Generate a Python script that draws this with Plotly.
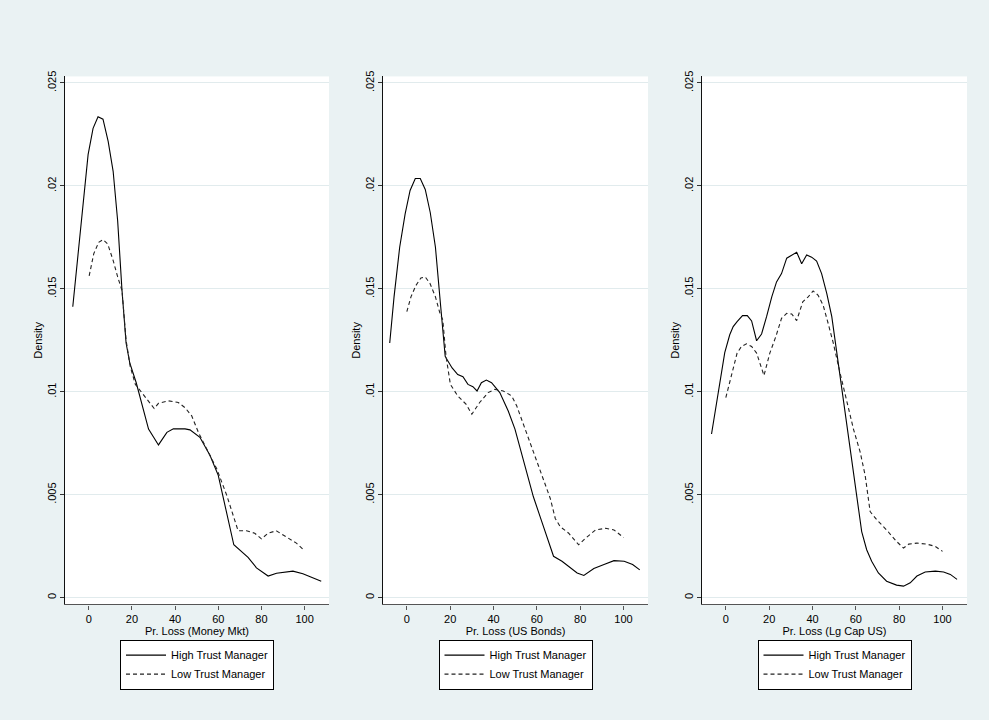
import plotly.graph_objects as go

# ---------------- data ----------------
panel_titles = ["Pr. Loss (Money Mkt)", "Pr. Loss (US Bonds)", "Pr. Loss (Lg Cap US)"]
series_names = ["High Trust Manager", "Low Trust Manager"]

mm_high_x = [-7.4, -5.1, -2.6, -0.3, 2.0, 4.3, 6.6, 9.0, 11.3, 13.4, 15.4, 17.3, 19.0, 22.0, 27.7, 32.3,
             36.2, 39.2, 44.6, 46.9, 51.5, 56.2, 60.0, 63.9, 67.2, 73.8, 77.7, 83.1, 87.0, 94.6, 99.2, 107.7]
mm_high_y = [0.01413, 0.01654, 0.01943, 0.02152, 0.0228, 0.02336, 0.02324, 0.02216, 0.02071, 0.0183,
             0.01493, 0.01237, 0.0114, 0.01044, 0.00819, 0.00742, 0.00803, 0.00820, 0.00820, 0.00815,
             0.00779, 0.00691, 0.00594, 0.00418, 0.00257, 0.00196, 0.00145, 0.00105, 0.00119, 0.00129,
             0.00116, 0.0008]
mm_low_x = [0.2, 2.3, 4.6, 6.6, 8.8, 11.3, 13.4, 15.4, 17.3, 19.2, 21.6, 26.2, 30.3, 32.3, 36.9, 41.5,
            44.6, 47.7, 50.8, 54.6, 59.3, 63.9, 67.2, 69.2, 73.1, 76.9, 80.0, 83.1, 86.9, 91.5, 96.2, 100.0]
mm_low_y = [0.01563, 0.0167, 0.01726, 0.01739, 0.01718, 0.01638, 0.01558, 0.01493, 0.0125, 0.01124,
            0.01036, 0.00972, 0.00919, 0.00944, 0.00956, 0.00948, 0.00923, 0.00883, 0.00803, 0.00723,
            0.00626, 0.00498, 0.00385, 0.00325, 0.00325, 0.00313, 0.00286, 0.00313, 0.00325, 0.00297,
            0.00265, 0.00228]

bd_high_x = [-7.9, -5.9, -3.3, -0.8, 1.5, 3.9, 6.2, 8.5, 10.8, 13.2, 15.5, 17.7, 18.6, 20.9, 23.5, 25.9,
             28.2, 30.5, 32.4, 34.4, 36.7, 39.1, 42.9, 46.8, 49.9, 53.0, 56.1, 58.4, 61.5, 64.7, 67.7,
             71.6, 75.5, 78.6, 81.7, 86.3, 91.0, 95.6, 100.3, 104.2, 107.5]
bd_high_y = [0.01237, 0.01461, 0.01702, 0.01863, 0.01978, 0.02036, 0.02036, 0.01983, 0.01871, 0.01702,
             0.01429, 0.01172, 0.01156, 0.01116, 0.01084, 0.01073, 0.01036, 0.01025, 0.01004, 0.01044,
             0.01057, 0.01044, 0.00996, 0.00907, 0.00819, 0.00698, 0.00578, 0.0049, 0.00394, 0.00289,
             0.00201, 0.00177, 0.00145, 0.0012, 0.00108, 0.00142, 0.00161, 0.0018, 0.00177, 0.00161,
             0.00135]
bd_low_x = [0.0, 1.9, 4.2, 6.5, 8.5, 10.7, 13.2, 15.3, 16.6, 18.1, 20.1, 23.5, 27.4, 30.0, 33.6, 37.5,
            40.6, 44.5, 48.4, 50.7, 54.6, 58.4, 62.3, 66.2, 68.5, 70.8, 74.7, 79.3, 82.5, 87.1, 91.8,
            95.6, 100.0]
bd_low_y = [0.01389, 0.01461, 0.01517, 0.01553, 0.01558, 0.01526, 0.01461, 0.01381, 0.01349, 0.01172,
            0.01036, 0.0098, 0.00939, 0.00891, 0.00948, 0.00996, 0.01012, 0.01004, 0.0098, 0.00932,
            0.00819, 0.00707, 0.00594, 0.00482, 0.00385, 0.00345, 0.00313, 0.00257, 0.00289, 0.00329,
            0.00337, 0.00329, 0.00292]

lc_high_x = [-6.6, -2.0, -0.5, 1.8, 3.4, 5.2, 7.7, 9.9, 11.9, 14.2, 16.5, 18.8, 21.2, 23.4, 25.7, 28.1,
             30.4, 32.7, 35.0, 37.3, 39.6, 41.9, 44.2, 46.6, 48.9, 50.4, 51.9, 54.2, 57.3, 60.4, 62.7,
             65.0, 67.3, 70.4, 74.2, 78.8, 82.0, 85.1, 88.2, 92.0, 96.7, 100.5, 103.6, 106.7]
lc_high_y = [0.00795, 0.01084, 0.0119, 0.01277, 0.01317, 0.01341, 0.0137, 0.0137, 0.01344, 0.01248,
             0.01281, 0.01365, 0.01461, 0.01534, 0.01574, 0.01649, 0.01665, 0.01678, 0.01622, 0.01665,
             0.01654, 0.01635, 0.01574, 0.01477, 0.01365, 0.01252, 0.01124, 0.00963, 0.00723, 0.00482,
             0.00321, 0.00233, 0.00177, 0.0012, 0.0008, 0.00061, 0.00056, 0.00072, 0.00105, 0.00125,
             0.00129, 0.00125, 0.00113, 0.00089]
lc_low_x = [0.0, 2.6, 5.2, 7.2, 9.5, 11.9, 14.2, 17.6, 20.3, 23.1, 25.7, 28.1, 30.4, 32.7, 35.5, 38.0,
            40.3, 42.6, 44.9, 47.2, 49.6, 52.7, 55.8, 58.9, 62.0, 64.3, 66.6, 69.7, 74.2, 78.8, 82.0,
            84.4, 88.2, 92.8, 96.7, 100.0]
lc_low_y = [0.00972, 0.01076, 0.01188, 0.0122, 0.01233, 0.0122, 0.01188, 0.01079, 0.01188, 0.01269,
            0.01357, 0.01381, 0.01378, 0.01346, 0.01437, 0.01461, 0.0149, 0.01469, 0.01421, 0.01333,
            0.01236, 0.01092, 0.00948, 0.00819, 0.00707, 0.00594, 0.00418, 0.00378, 0.00329, 0.00273,
            0.00241, 0.0026, 0.00265, 0.0026, 0.00249, 0.00225]

x_ticks = [0, 20, 40, 60, 80, 100]
y_ticks = [0, 0.005, 0.01, 0.015, 0.02, 0.025]
y_tick_labels = ["0", ".005", ".01", ".015", ".02", ".025"]

panels = [
    (mm_high_x, mm_high_y, mm_low_x, mm_low_y),
    (bd_high_x, bd_high_y, bd_low_x, bd_low_y),
    (lc_high_x, lc_high_y, lc_low_x, lc_low_y),
]

# ---------------- layout geometry ----------------
W, H = 989, 720
BG = "#EAF2F3"
GRID = "#E1EBED"
FONT = "Liberation Sans, Arial, sans-serif"
x_px = [(65, 329), (383, 648), (702, 967)]
y_top_px, y_bot_px = 71, 603.5

fig = go.Figure()
layout = dict(
    width=W, height=H,
    margin=dict(l=0, r=0, t=0, b=0),
    paper_bgcolor=BG, plot_bgcolor="white",
    font=dict(family=FONT, size=11, color="black"),
    showlegend=True,
)

for i, (hx, hy, lx, ly) in enumerate(panels):
    k = "" if i == 0 else str(i + 1)
    leg = "legend" + k
    fig.add_trace(go.Scatter(x=hx, y=hy, mode="lines", name=series_names[0],
                             line=dict(color="black", width=1.1),
                             xaxis="x" + k, yaxis="y" + k, legend=leg))
    fig.add_trace(go.Scatter(x=lx, y=ly, mode="lines", name=series_names[1],
                             line=dict(color="#222222", width=1.1, dash="4px,3px"),
                             xaxis="x" + k, yaxis="y" + k, legend=leg))
    x0, x1 = x_px[i]
    layout["xaxis" + k] = dict(
        domain=[x0 / W, x1 / W], anchor="y" + k, range=[-11, 111.3],
        tickvals=x_ticks, ticks="outside", ticklen=4, tickcolor="#555555",
        showline=True, linecolor="#555555", linewidth=1.2, showgrid=False, zeroline=False,
        title=dict(text=panel_titles[i], standoff=0, font=dict(size=11)),
        tickfont=dict(size=11),
    )
    layout["yaxis" + k] = dict(
        domain=[1 - y_bot_px / H, 1 - y_top_px / H], anchor="x" + k,
        range=[-0.00033, 0.02532],
        tickvals=y_ticks, ticktext=y_tick_labels, tickangle=-90,
        ticks="outside", ticklen=4, tickcolor="#333333",
        showline=True, linecolor="#111111", linewidth=1.2,
        showgrid=True, gridcolor=GRID, gridwidth=1, zeroline=False,
        title=dict(text="Density", standoff=0, font=dict(size=11)),
        tickfont=dict(size=11),
    )
    layout[leg] = dict(
        x=(x0 + x1) / 2 / W, xanchor="center", y=1 - 639 / H, yanchor="top",
        bgcolor="white", bordercolor="black", borderwidth=1,
        font=dict(size=11), tracegroupgap=0, itemwidth=40,
    )

fig.update_layout(**layout)
fig.write_html("out.html", config={"displayModeBar": False},
               post_script="document.body.style.margin='0';")
